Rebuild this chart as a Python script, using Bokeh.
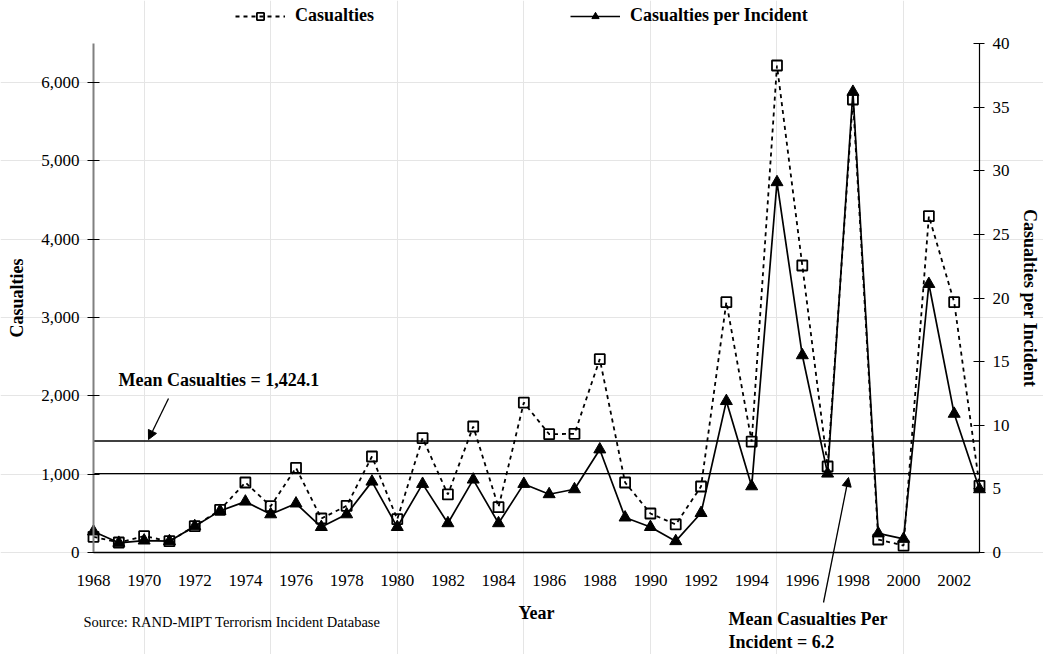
from bokeh.plotting import figure
from bokeh.models import (Range1d, LinearAxis, FixedTicker, NumeralTickFormatter,
                          Label, Arrow, NormalHead, Legend, LegendItem)
from bokeh.embed import file_html
from bokeh.resources import INLINE

# ---------------- data ----------------
years = list(range(1968, 2004))
casualties = [200, 128, 208, 145, 336, 545, 894, 591, 1081, 434,
              596, 1226, 425, 1460, 741, 1609, 579, 1915, 1511, 1515,
              2469, 894, 498, 358, 843, 3197, 1417, 6219, 3665, 1098,
              5785, 166, 89, 4295, 3197, 852]
per_incident = [1.65, 0.76, 0.94, 0.89, 2.07, 3.27, 4.0, 3.0, 3.85, 2.0,
                3.0, 5.57, 2.0, 5.39, 2.3, 5.73, 2.3, 5.39, 4.58, 4.97,
                8.1, 2.75, 2.0, 0.89, 3.1, 11.9, 5.2, 29.1, 15.5, 6.2,
                36.2, 1.5, 1.07, 21.1, 10.9, 4.97]
x_ticks = list(range(1968, 2003, 2))
left_ticks = [0, 1000, 2000, 3000, 4000, 5000, 6000]
right_ticks = [0, 5, 10, 15, 20, 25, 30, 35, 40]
left_max = 6500
right_max = 40
mean_casualties = 1424.1
mean_per_incident = 6.2

# ---------------- layout (pixels) ----------------
W, H = 1043, 654
PX_L, PX_R, PY_T, PY_B = 93, 979, 43, 552   # plot area in canvas pixels
X_FIRST, X_LAST = years[0], years[-1]

def xd(px):
    return X_FIRST + (px - PX_L) * (X_LAST - X_FIRST) / (PX_R - PX_L)

def yl(py):
    return (PY_B - py) * left_max / (PY_B - PY_T)

def yr(py):
    return (PY_B - py) * right_max / (PY_B - PY_T)

FONT = "Liberation Serif"

p = figure(width=W, height=H, output_backend="svg", toolbar_location=None,
           x_range=Range1d(xd(0), xd(W)), y_range=Range1d(yl(H), yl(0)),
           x_axis_location=None, y_axis_location=None,
           min_border=0, min_border_left=0, min_border_right=0,
           min_border_top=0, min_border_bottom=0)
p.extra_y_ranges = {"right": Range1d(yr(H), yr(0))}
p.outline_line_color = None
p.background_fill_color = "white"
p.border_fill_color = "white"

# bottom axis
xa = LinearAxis(ticker=FixedTicker(ticks=x_ticks), fixed_location=0,
                bounds=(X_FIRST, X_LAST), axis_label="Year")
xa.axis_line_color = "black"
xa.axis_line_width = 1.3
xa.major_tick_out = 0
xa.major_tick_in = 0
xa.minor_tick_line_color = None
xa.major_label_standoff = 22
xa.axis_label_standoff = 14

# left axis
ya = LinearAxis(ticker=FixedTicker(ticks=left_ticks), fixed_location=X_FIRST,
                bounds=(0, left_max), axis_label="Casualties",
                formatter=NumeralTickFormatter(format="0,0"))
ya.axis_line_color = "#808080"
ya.axis_line_width = 2
ya.major_tick_out = 6
ya.major_tick_in = 6
ya.major_tick_line_color = "black"
ya.minor_tick_line_color = None
ya.major_label_standoff = 8
ya.axis_label_standoff = 11

# right axis
ra = LinearAxis(y_range_name="right", ticker=FixedTicker(ticks=right_ticks),
                fixed_location=X_LAST, bounds=(0, right_max),
                axis_label="Casualties per Incident")
ra.axis_line_color = "black"
ra.axis_line_width = 1.2
ra.major_tick_out = 5
ra.major_tick_in = 6
ra.major_tick_line_color = "black"
ra.minor_tick_line_color = None
ra.major_label_standoff = 8
ra.axis_label_standoff = 7

for ax in (xa, ya, ra):
    ax.major_label_text_font = FONT
    ax.major_label_text_font_size = "17px"
    ax.major_label_text_color = "black"
    ax.axis_label_text_font = FONT
    ax.axis_label_text_font_size = "18px"
    ax.axis_label_text_font_style = "bold"
    ax.axis_label_text_color = "black"

p.add_layout(xa, "below")
p.add_layout(ya, "left")
p.add_layout(ra, "right")

# mean lines
p.line([X_FIRST, X_LAST], [mean_casualties, mean_casualties],
       line_color="black", line_width=1.3)
p.line([X_FIRST, X_LAST], [mean_per_incident, mean_per_incident],
       y_range_name="right", line_color="black", line_width=1.3)

# series
r_cas_line = p.line(years, casualties, line_color="black", line_width=1.8,
                    line_dash="4 4")
r_pi_line = p.line(years, per_incident, y_range_name="right",
                   line_color="black", line_width=1.7)
r_pi_tri = p.scatter(years, per_incident, y_range_name="right", marker="triangle",
                     size=12, fill_color="black", line_color="black")
r_cas_sq = p.scatter(years, casualties, marker="square", size=10,
                     fill_color=None, line_color="black", line_width=1.8)

# legend (top)
legend = Legend(items=[LegendItem(label="Casualties", renderers=[r_cas_line, r_cas_sq]),
                       LegendItem(label="Casualties per Incident",
                                  renderers=[r_pi_line, r_pi_tri])],
                orientation="horizontal", location=(235, H - 8 - 18),
                padding=0, spacing=196, glyph_width=50, glyph_height=18,
                label_standoff=10, label_height=18, margin=0,
                border_line_color=None, background_fill_alpha=0)
legend.label_text_font = FONT
legend.label_text_font_size = "18px"
legend.label_text_font_style = "bold"
legend.label_text_color = "black"
p.add_layout(legend)

# annotations
def bold_label(x, y, text):
    return Label(x=x, y=y, text=text, text_baseline="middle", text_font=FONT,
                 text_font_size="18px", text_font_style="bold", text_color="black")

p.add_layout(bold_label(xd(118), yl(379), "Mean Casualties = 1,424.1"))
p.add_layout(Arrow(end=NormalHead(size=9, fill_color="black", line_color="black"),
                   x_start=xd(168), y_start=yl(398), x_end=xd(148), y_end=yl(439),
                   line_color="black", line_width=1.3))
p.add_layout(bold_label(xd(728), yl(618), "Mean Casualties Per"))
p.add_layout(bold_label(xd(728), yl(641), "Incident = 6.2"))
p.add_layout(Arrow(end=NormalHead(size=9, fill_color="black", line_color="black"),
                   x_start=xd(823), y_start=yl(602), x_end=xd(848), y_end=yl(477),
                   line_color="black", line_width=1.3))
p.add_layout(Label(x=xd(83), y=yl(621), text="Source: RAND-MIPT Terrorism Incident Database",
                   text_baseline="middle", text_font=FONT, text_font_size="14.5px",
                   text_color="black"))

open("out.html", "w").write(file_html(p, INLINE))
